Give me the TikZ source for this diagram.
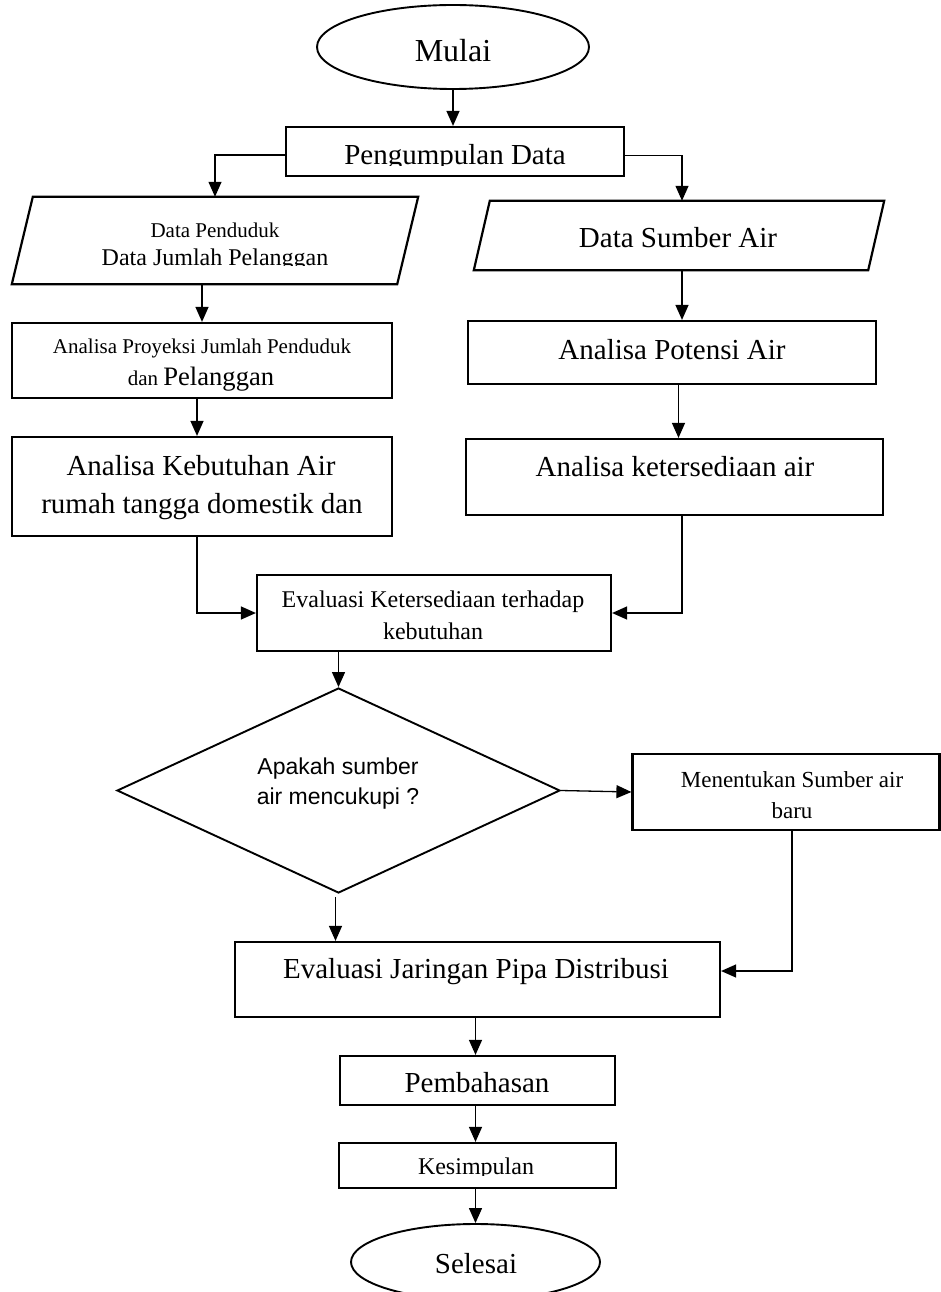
\documentclass[tikz,border=0pt]{standalone}
\usepackage{fontspec}
\setmainfont{Liberation Serif}
\newfontfamily\diasans{Liberation Sans}
\usetikzlibrary{shapes.geometric,arrows.meta}
\begin{document}
\begin{tikzpicture}[x=1pt,y=-1pt,
 box/.style={draw,line width=2.2pt,rectangle,inner sep=0pt},
 term/.style={draw,line width=1.9pt,ellipse,inner sep=0pt},
 iobox/.style={rectangle,inner sep=0pt},
 iodraw/.style={line width=2.2pt,line join=miter},
 dia/.style={draw,line width=1.9pt,diamond,inner sep=0pt},
 txt/.style={anchor=base,inner sep=0pt},
 fL/.style={font=\fontsize{29}{34}\selectfont},
 fS/.style={font=\fontsize{21}{25}\selectfont},
 fM/.style={font=\fontsize{24}{28}\selectfont},
 conn/.style={line width=1.3pt,-{Triangle[length=15pt,width=13pt]}}
]
\useasboundingbox (0,0) rectangle (941,1292);
\fill[white] (0,0) rectangle (941,1292);

% shapes
\node[term,minimum width=272pt,minimum height=84pt] (mulai) at (453,47) {};
\node[box,minimum width=338pt,minimum height=49pt] (peng) at (455,151.5) {};
\node[iobox,minimum width=406pt,minimum height=87pt] (dp) at (215,240.5) {};
\draw[iodraw] ([xshift=21pt]dp.north west) -- (dp.north east) -- ([xshift=-21pt]dp.south east) -- (dp.south west) -- cycle;
\node[iobox,minimum width=410pt,minimum height=69pt] (ds) at (679,235.5) {};
\draw[iodraw] ([xshift=16pt]ds.north west) -- (ds.north east) -- ([xshift=-16pt]ds.south east) -- (ds.south west) -- cycle;
\node[box,minimum width=380pt,minimum height=75pt] (proy) at (202,360.5) {};
\node[box,minimum width=380pt,minimum height=99pt] (keb) at (202,486.5) {};
\node[box,minimum width=408pt,minimum height=63pt] (pot) at (672,352.5) {};
\node[box,minimum width=417pt,minimum height=76pt] (ket) at (674.5,477) {};
\node[box,minimum width=354pt,minimum height=76pt] (evalk) at (434,613) {};
\node[dia,minimum width=443pt,minimum height=205pt] (dec) at (338.5,790.5) {};
\node[box,minimum width=307pt,minimum height=76pt] (ment) at (786,792) {};
\node[box,minimum width=485pt,minimum height=75pt] (evalj) at (477.5,979.5) {};
\node[box,minimum width=275pt,minimum height=49pt] (pemb) at (477.5,1080.5) {};
\node[box,minimum width=277pt,minimum height=45pt] (kes) at (477.5,1165.5) {};
\node[term,minimum width=249pt,minimum height=76pt] (sel) at (475.5,1262) {};

% texts
\node[txt,font=\fontsize{32}{36}\selectfont] (tmulai) at (453,62) {Mulai};
\begin{scope}
\clip (300,130) rectangle (610,166);
\node[txt,fL] (tpeng) at (455,165) {Pengumpulan Data};
\end{scope}
\node[txt,fS] (tdp1) at (215,237) {Data Penduduk};
\begin{scope}
\clip (60,240) rectangle (380,265.5);
\node[txt,fM] (tdp2) at (215,265) {Data Jumlah Pelanggan};
\end{scope}
\node[txt,fL] (tds) at (678,247) {Data Sumber Air};
\node[txt,fS] (tproy1) at (202,353) {Analisa Proyeksi Jumlah Penduduk};
\node[txt] (tproy2) at (201,385) {\fontsize{21}{25}\selectfont dan \fontsize{26.6}{30}\selectfont Pelanggan};
\node[txt,fL] (tpot) at (672,359) {Analisa Potensi Air};
\node[txt,fL] (tkeb1) at (201,475) {Analisa Kebutuhan Air};
\node[txt,fL] (tkeb2) at (202,513) {rumah tangga domestik dan};
\node[txt,fL] (tket) at (675,476) {Analisa ketersediaan air};
\node[txt,fM] (tevk1) at (433,607) {Evaluasi Ketersediaan terhadap};
\node[txt,fM] (tevk2) at (433,639) {kebutuhan};
\node[txt,font=\diasans\fontsize{23}{27}\selectfont] (tdec1) at (338,774) {Apakah sumber};
\node[txt,font=\diasans\fontsize{23}{27}\selectfont] (tdec2) at (338,804) {air mencukupi ?};
\node[txt,font=\fontsize{23}{27}\selectfont] (tment1) at (792,787) {Menentukan Sumber air};
\node[txt,font=\fontsize{23}{27}\selectfont] (tment2) at (792,818) {baru};
\node[txt,fL] (tevj) at (476,978) {Evaluasi Jaringan Pipa Distribusi};
\node[txt,fL] (tpemb) at (477,1092) {Pembahasan};
\begin{scope}
\clip (400,1145) rectangle (560,1175.5);
\node[txt,fM] (tkes) at (476,1174) {Kesimpulan};
\end{scope}
\node[txt,fL] (tsel) at (476,1273) {Selesai};

% connectors
\draw[conn] (mulai.south) -- (mulai.south |- peng.north);
\draw[conn] ([yshift=-3.5pt]peng.west) -| (dp.north);
\draw[conn] ([yshift=-4pt]peng.east) -| ([xshift=3pt]ds.north);
\draw[conn] (proy.north |- dp.south) -- (proy.north);
\draw[conn] ([xshift=-5pt]proy.south) -- ([xshift=-5pt]keb.north);
\draw[conn] ([xshift=3pt]ds.south) -- ([xshift=3pt]ds.south |- pot.north);
\draw[conn] ([xshift=4pt]ket.north |- pot.south) -- ([xshift=4pt]ket.north);
\draw[conn] ([xshift=-5pt]keb.south) |- (evalk.west);
\draw[conn] ([xshift=7.5pt]ket.south) |- (evalk.east);
\draw[conn] (dec.north |- evalk.south) -- (dec.north);
\draw[conn] (dec.east) -- (ment.west);
\draw[conn] ([xshift=-3pt,yshift=-3pt]dec.south) -- ([xshift=-3pt]dec.south |- evalj.north);
\draw[conn] ([xshift=6pt]ment.south) |- ([yshift=8.5pt]evalj.east);
\draw[conn] ([xshift=-2pt]evalj.south) -- ([xshift=-2pt]pemb.north);
\draw[conn] ([xshift=-2pt]pemb.south) -- ([xshift=-2pt]kes.north);
\draw[conn] ([xshift=-2pt]kes.south) -- ([xshift=-2pt]kes.south |- sel.north);
\end{tikzpicture}
\end{document}
